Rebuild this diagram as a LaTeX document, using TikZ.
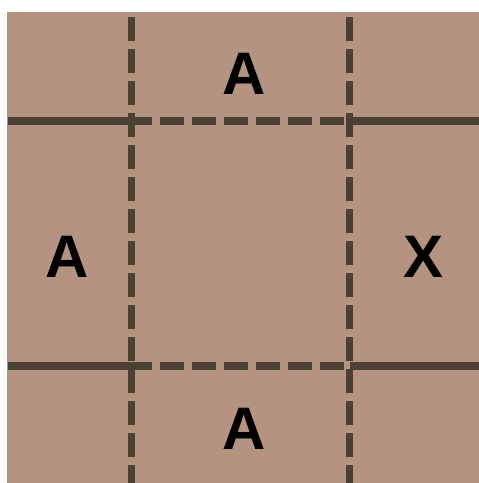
\documentclass[tikz,border=0pt]{standalone}
\usepackage{fontspec}
\newfontfamily\boldsans{Liberation Sans Bold}
\definecolor{tan}{HTML}{B49481}
\definecolor{grid}{HTML}{4A4033}
\begin{document}
\begin{tikzpicture}[
    x=1pt, y=-1pt,
    wall/.style={draw=grid, line width=7.5pt},
    open/.style={draw=grid, line width=7.5pt, dash pattern=on 24pt off 8pt},
    lbl/.style={inner sep=0pt, font=\boldsans\fontsize{60}{60}\selectfont},
  ]
    \useasboundingbox (0,0) rectangle (479,483);
    % Board ------------------------------------------------------------------
    \fill[tan] (7,12) rectangle (479,483);

    % Corner points ----------------------------------------------------------
    \coordinate (v1top) at (131.5,17);
    \coordinate (v1bot) at (131.5,483);
    \coordinate (v2top) at (349.5,17);
    \coordinate (v2bot) at (349.5,483);
    \coordinate (h1l)   at (8,121);
    \coordinate (h1a)   at (131.5,121);
    \coordinate (h1s)   at (128,121);
    \coordinate (h1e)   at (353,121);
    \coordinate (h1b)   at (349.5,121);
    \coordinate (h1r)   at (479,121);
    \coordinate (h2l)   at (8,366);
    \coordinate (h2a)   at (131.5,366);
    \coordinate (h2s)   at (128,366);
    \coordinate (h2e)   at (353,366);
    \coordinate (h2b)   at (349.5,366);
    \coordinate (h2r)   at (479,366);

    % Walls ------------------------------------------------------------------
    \draw[wall] (h1l) -- (h1a);
    \draw[wall] (h1b) -- (h1r);
    \draw[wall] (h2l) -- (h2a);
    \draw[wall] (h2b) -- (h2r);

    % Open edges -------------------------------------------------------------
    \draw[open] (h1s) -- (h1e);
    \draw[open] (h2s) -- (h2e);
    \draw[open] (v1top) -- (v1bot);
    \draw[open] (v2top) -- (v2bot);

    % Labels -----------------------------------------------------------------
    \node[lbl] (north) at (244.5,73.5) {A};
    \node[lbl] (west)  at (67,256.5)   {A};
    \node[lbl] (east)  at (424,256.5)  {X};
    \node[lbl] (south) at (244.5,428.5) {A};
  \end{tikzpicture}
\end{document}
